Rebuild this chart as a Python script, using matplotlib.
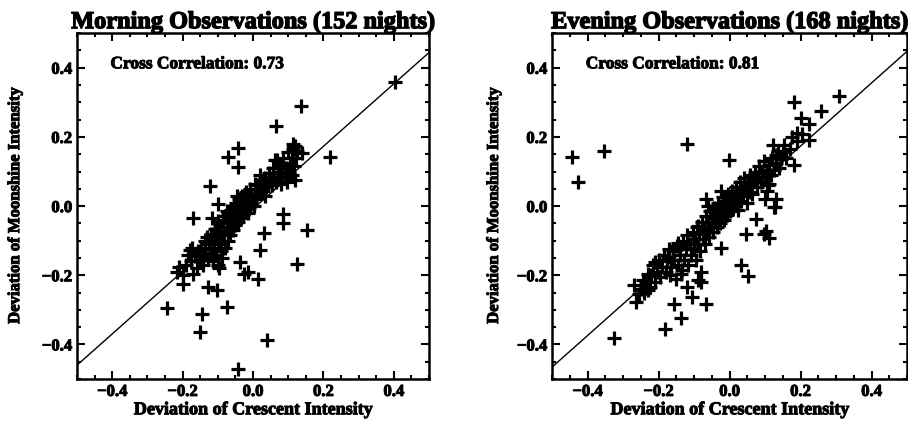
import numpy as np
import matplotlib
matplotlib.use("Agg")
import matplotlib.pyplot as plt
import matplotlib.patheffects as pe
from matplotlib.ticker import MultipleLocator

plt.rcParams['font.family'] = ['Liberation Serif', 'DejaVu Serif']
plt.rcParams['font.weight'] = 'bold'

# Morning observations: deviation of crescent vs moonshine intensity
morning_x = [0.403, 0.136, 0.065, -0.043, -0.07, -0.043, 0.219, -0.122, 0.115, 0.067,
             -0.17, -0.117, 0.084, 0.086, 0.152, 0.03, 0.02, 0.124, -0.037, -0.013,
             -0.027, 0.015, -0.179, -0.217, -0.198, -0.17, -0.127, -0.103, -0.245, -0.146,
             -0.073, -0.152, 0.041, -0.042, -0.099, 0.119, 0.138, 0.11, 0.062, 0.072,
             0.02, 0.006, -0.046, -0.022, -0.075, -0.099, -0.103, -0.136, -0.174, 0.125,
             -0.19, -0.185, -0.175, -0.165, -0.16, -0.155, -0.15, -0.148, -0.142, -0.14,
             -0.2, -0.21,
             -0.135, -0.132, -0.128, -0.125, -0.12, -0.118, -0.115, -0.112, -0.11, -0.108,
             -0.105, -0.102, -0.1, -0.1, -0.098, -0.095, -0.092, -0.09, -0.088, -0.085,
             -0.082, -0.08, -0.078, -0.075, -0.072, -0.07, -0.068, -0.065, -0.062, -0.06,
             -0.058, -0.055, -0.052, -0.05, -0.048, -0.045, -0.042, -0.04,
             -0.038, -0.035, -0.032, -0.03, -0.028, -0.025, -0.022, -0.02, -0.018, -0.015,
             -0.012, -0.01, -0.008, -0.005,
             0.003, 0.008, 0.012, 0.015, 0.02, 0.025, 0.028, 0.033, 0.035, 0.038,
             0.043, 0.045, 0.05,
             0.053, 0.056, 0.06, 0.066, 0.07, 0.073, 0.076, 0.08, 0.083, 0.086,
             0.09, 0.093, 0.096, 0.1, 0.103, 0.106, 0.11, 0.113, 0.116, 0.12, 0.123]
morning_y = [0.36, 0.29, 0.233, 0.168, 0.143, 0.114, 0.141, 0.057, 0.18, 0.133,
             -0.033, -0.033, -0.024, -0.05, -0.068, -0.077, -0.128, -0.168, -0.161, -0.19,
             -0.195, -0.21, -0.126, -0.19, -0.224, -0.195, -0.234, -0.242, -0.295, -0.311,
             -0.291, -0.365, -0.388, -0.47, 0.006, 0.173, 0.153, 0.14, 0.133, 0.109,
             0.089, 0.065, 0.03, 0.016, -0.014, -0.042, -0.073, -0.102, -0.122, 0.16,
             -0.17, -0.14, -0.16, -0.145, -0.18, -0.13, -0.155, -0.12, -0.17, -0.14,
             -0.2, -0.175,
             -0.125, -0.09, -0.15, -0.11, -0.135, -0.08, -0.16, -0.1, -0.12, -0.065,
             -0.14, -0.09, -0.17, -0.11, -0.18, -0.06, -0.13, -0.1, -0.15, -0.04,
             -0.08, -0.12, -0.03, -0.06, -0.1, -0.02, -0.05, -0.085, -0.01, -0.04,
             -0.07, 0.0, -0.03, -0.055, 0.01, -0.02, -0.045, 0.02,
             -0.01, -0.035, 0.03, 0.0, -0.025, 0.015, -0.01, 0.04, 0.005, -0.02,
             0.025, -0.005, 0.05, 0.015,
             0.0, 0.02, 0.035, 0.06, 0.04, 0.07, 0.045, 0.03, 0.08, 0.055,
             0.065, 0.095, 0.075,
             0.06, 0.11, 0.085, 0.07, 0.1, 0.08, 0.12, 0.065, 0.095, 0.14,
             0.085, 0.11, 0.07, 0.155, 0.1, 0.125, 0.09, 0.165, 0.115, 0.075, 0.14]

# Evening observations
evening_x = [-0.443, -0.426, -0.354, -0.121, -0.001, 0.182, 0.257, 0.308, 0.2, 0.224,
             0.204, 0.19, 0.224, 0.121, 0.154, 0.13, 0.182, 0.106, 0.13, -0.067,
             -0.025, 0.111, 0.125, 0.074, 0.046, 0.102, 0.111, 0.098, -0.025, 0.032,
             0.052, -0.21, -0.269, -0.264, -0.325, -0.183, -0.137, -0.156, -0.067, -0.105,
             -0.119, -0.081, -0.081, -0.089, -0.135, -0.173, -0.145, -0.089, 0.1, 0.128,
             -0.25, -0.245, -0.24, -0.235, -0.23, -0.225, -0.22, -0.215, -0.21, -0.205,
             -0.2, -0.195, -0.19, -0.185, -0.18,
             -0.176, -0.172, -0.168, -0.165, -0.16, -0.156, -0.152, -0.148, -0.145, -0.14,
             -0.136, -0.132, -0.128, -0.124, -0.12, -0.116, -0.112, -0.108, -0.104, -0.1,
             -0.097, -0.094, -0.091, -0.088, -0.085, -0.082, -0.079, -0.076, -0.073, -0.07,
             -0.067, -0.064, -0.061, -0.058, -0.055, -0.052, -0.05,
             -0.047, -0.044, -0.041, -0.038, -0.035, -0.032, -0.03, -0.027, -0.024, -0.021,
             -0.018, -0.015, -0.012, -0.01, -0.007, -0.004, -0.002, 0.0,
             0.003, 0.006, 0.009, 0.012, 0.015, 0.018, 0.021, 0.024, 0.027, 0.03,
             0.033, 0.036, 0.039, 0.042, 0.045, 0.048, 0.051, 0.054, 0.057, 0.06,
             0.064, 0.068, 0.072, 0.076, 0.08, 0.084, 0.088, 0.092, 0.096, 0.1,
             0.104, 0.108, 0.112, 0.116, 0.12, 0.125, 0.13, 0.135, 0.14, 0.145,
             0.15, 0.16, 0.17, 0.175, 0.19, -0.231, -0.255, -0.06]
evening_y = [0.143, 0.07, 0.158, 0.18, 0.133, 0.3, 0.276, 0.317, 0.256, 0.236,
             0.207, 0.188, 0.192, 0.177, 0.177, 0.148, 0.118, 0.045, 0.02, 0.02,
             0.045, 0.065, -0.004, -0.038, -0.082, -0.073, -0.092, -0.08, -0.122, -0.171,
             -0.203, -0.161, -0.229, -0.278, -0.381, -0.354, -0.324, -0.283, -0.283, -0.264,
             -0.234, -0.22, -0.19, -0.215, -0.185, -0.146, -0.106, -0.058, 0.02, -0.004,
             -0.24, -0.215, -0.25, -0.22, -0.195, -0.235, -0.2, -0.17, -0.22, -0.19,
             -0.155, -0.205, -0.175, -0.14, -0.19,
             -0.16, -0.125, -0.2, -0.175, -0.13, -0.155, -0.21, -0.115, -0.17, -0.14,
             -0.195, -0.1, -0.155, -0.125, -0.085, -0.17, -0.11, -0.14, -0.075, -0.12,
             -0.095, -0.155, -0.06, -0.11, -0.08, -0.13, -0.045, -0.095, -0.065, -0.11,
             -0.03, -0.075, -0.05, -0.09, -0.015, -0.06, -0.035,
             -0.075, -0.005, -0.045, -0.02, -0.06, 0.01, -0.03, -0.05, 0.0, -0.02,
             0.025, -0.04, -0.01, 0.015, -0.025, 0.035, 0.0, -0.015,
             0.02, 0.045, -0.005, 0.03, 0.01, 0.055, 0.025, -0.01, 0.04, 0.07,
             0.015, 0.05, 0.03, 0.08, 0.055, 0.01, 0.065, 0.04, 0.09, 0.06,
             0.035, 0.075, 0.1, 0.055, 0.085, 0.115, 0.07, 0.095, 0.13, 0.08,
             0.105, 0.06, 0.12, 0.09, 0.14, 0.105, 0.125, 0.16, 0.11, 0.135,
             0.155, 0.14, 0.165, 0.2, 0.21, -0.244, -0.255, 0.0]

# fitted lines (slope, intercept)
morning_fit = (0.904, -0.008)
evening_fit = (0.913, -0.009)

tick_vals = [-0.4, -0.2, 0.0, 0.2, 0.4]
tick_labels = ['\u22120.4', '\u22120.2', '0.0', '0.2', '0.4']

panels = [
    ("Morning Observations (152 nights)", morning_x, morning_y, morning_fit, "0.73",
     [0.0848, 0.11, 0.3877, 0.81], -0.153),
    ("Evening Observations (168 nights)", evening_x, evening_y, evening_fit, "0.81",
     [0.608, 0.11, 0.391, 0.81], -0.141),
]

heavy = [pe.withStroke(linewidth=0.7, foreground='black')]

fig = plt.figure(figsize=(9.08, 4.27), dpi=100)

for title, xs, ys, fit, cc, pos, ylab_x in panels:
    ax = fig.add_axes(pos)
    ax.plot(xs, ys, linestyle='none', marker='+', markersize=9.5,
            markeredgewidth=2.3, color='black')
    lx = np.array([-0.5, 0.5])
    ax.plot(lx, fit[0] * lx + fit[1], color='black', linewidth=1.0)
    ax.set_xlim(-0.5, 0.5)
    ax.set_ylim(-0.5, 0.5)
    ax.xaxis.set_minor_locator(MultipleLocator(0.05))
    ax.yaxis.set_minor_locator(MultipleLocator(0.05))
    ax.set_xticks(tick_vals)
    ax.set_xticklabels(tick_labels)
    ax.set_yticks(tick_vals)
    ax.set_yticklabels(tick_labels)
    ax.tick_params(which='both', direction='in', top=True, right=True,
                   labelsize=12, width=1.5)
    ax.tick_params(which='major', length=6)
    ax.tick_params(which='minor', length=3)
    for lbl in ax.get_xticklabels() + ax.get_yticklabels():
        lbl.set_path_effects(heavy)
    for sp in ax.spines.values():
        sp.set_linewidth(1.8)
    t = ax.set_title(title, fontsize=17.5, fontweight='bold', pad=3)
    t.set_path_effects([pe.withStroke(linewidth=1.0, foreground='black')])
    xl = ax.set_xlabel('Deviation of Crescent Intensity', fontsize=13,
                       fontweight='bold', labelpad=1)
    xl.set_path_effects(heavy)
    yl = ax.set_ylabel('Deviation of Moonshine Intensity', fontsize=12,
                       fontweight='bold')
    yl.set_path_effects(heavy)
    ax.yaxis.set_label_coords(ylab_x, 0.5)
    tx = ax.text(-0.405, 0.41, 'Cross Correlation: ' + cc, fontsize=12.5,
                 fontweight='bold', va='center', ha='left')
    tx.set_path_effects(heavy)

fig.savefig('out.png', dpi=100)
